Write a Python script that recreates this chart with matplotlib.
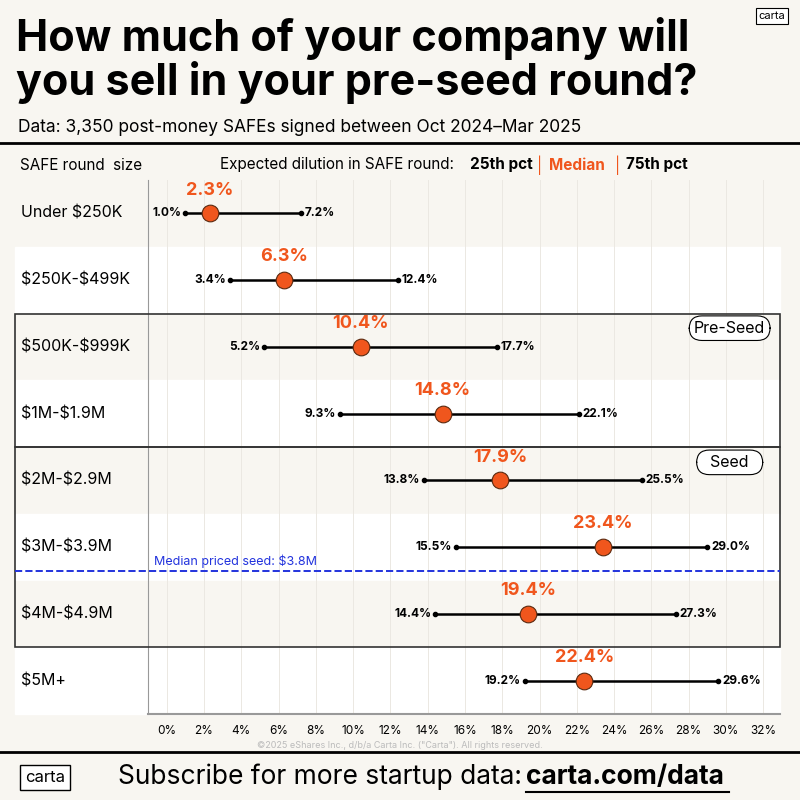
import matplotlib
matplotlib.use("Agg")
import matplotlib.pyplot as plt
from matplotlib.patches import Rectangle
from matplotlib.lines import Line2D

categories = ["Under $250K", "$250K-$499K", "$500K-$999K", "$1M-$1.9M",
              "$2M-$2.9M", "$3M-$3.9M", "$4M-$4.9M", "$5M+"]
p25 = [1.0, 3.4, 5.2, 9.3, 13.8, 15.5, 14.4, 19.2]
median = [2.3, 6.3, 10.4, 14.8, 17.9, 23.4, 19.4, 22.4]
p75 = [7.2, 12.4, 17.7, 22.1, 25.5, 29.0, 27.3, 29.6]
ticks = list(range(0, 33, 2))

plt.rcParams['font.family'] = ['Inter', 'DejaVu Sans']
plt.rcParams['text.parse_math'] = False
BG = "#f8f6f1"
OR = "#f0561d"
fig = plt.figure(figsize=(8, 8), dpi=100, facecolor=BG)

def fx(px): return px / 800
def fy(py): return 1 - py / 800

fig.text(fx(16), fy(38), "How much of your company will", fontsize=31, fontweight="bold", va="center")
fig.text(fx(16), fy(82), "you sell in your pre-seed round?", fontsize=31, fontweight="bold", va="center")
fig.text(fx(18), fy(127), "Data: 3,350 post-money SAFEs signed between Oct 2024–Mar 2025", fontsize=12.5, va="center")
fig.text(fx(772), fy(16), "carta", fontsize=8, ha="center", va="center",
         bbox=dict(boxstyle="square,pad=0.25", fc="white", ec="black", lw=0.8))
fig.add_artist(Line2D([0, 1], [fy(143), fy(143)], color="black", lw=2))
fig.add_artist(Line2D([0, 1], [fy(752), fy(752)], color="black", lw=2))

fig.text(fx(20), fy(165), "SAFE round  size", fontsize=11, va="center")
fig.text(fx(220), fy(165), "Expected dilution in SAFE round: ", fontsize=11, va="center")
fig.text(fx(470), fy(165), "25th pct", fontsize=11, fontweight="bold", va="center")
fig.text(fx(537), fy(165), "|", fontsize=11, va="center", color=OR)
fig.text(fx(549), fy(165), "Median", fontsize=11, fontweight="bold", va="center", color=OR)
fig.text(fx(615), fy(165), "|", fontsize=11, va="center", color=OR)
fig.text(fx(626), fy(165), "75th pct", fontsize=11, fontweight="bold", va="center")

ax = fig.add_axes([fx(148), fy(714), fx(780 - 148), fy(180) - fy(714)])
ax.set_facecolor("none")
ax.set_xlim(-1.0, 32.9)
ax.set_ylim(7.5, -0.5)
left_ext = (15 - 148) / 632
x_left = -1.0 + left_ext * 33.9

for i in range(len(categories)):
    col = BG if i % 2 == 0 else "white"
    ax.axhspan(i - 0.5, i + 0.5, xmin=left_ext, xmax=1, color=col, zorder=0, clip_on=False)
for t in ticks:
    ax.axvline(t, color="#ebe8e2", lw=0.7, zorder=1)

for i, c in enumerate(categories):
    ax.plot([p25[i], p75[i]], [i, i], color="black", lw=1.8, zorder=3)
    ax.plot([p25[i], p75[i]], [i, i], "o", color="black", ms=3, zorder=3)
    ax.plot(median[i], i, "o", ms=12, color=OR, mec="#5a2a10", mew=0.8, zorder=4)
    ax.text(p25[i] - 0.2, i, f"{p25[i]:.1f}%", ha="right", va="center", fontsize=8.5, fontweight="bold")
    ax.text(p75[i] + 0.2, i, f"{p75[i]:.1f}%", ha="left", va="center", fontsize=8.5, fontweight="bold")
    ax.text(median[i], i - 0.22, f"{median[i]:.1f}%", ha="center", va="bottom", fontsize=13,
            fontweight="bold", color=OR)
    ax.text(x_left + 0.3, i, c, ha="left", va="center", fontsize=11.5)

ax.set_yticks([])
ax.set_xticks(ticks)
ax.set_xticklabels([f"{t}%" for t in ticks], fontsize=8.5)
ax.tick_params(axis="x", length=0, pad=8)
for s in ["top", "right"]:
    ax.spines[s].set_visible(False)
ax.spines["left"].set_color("#999999")
ax.spines["bottom"].set_color("#999999")
ax.spines["left"].set_linewidth(0.8)
ax.spines["bottom"].set_linewidth(1.5)

for y0, y1 in [(1.5, 3.5), (3.5, 6.5)]:
    ax.add_patch(Rectangle((x_left, y0), 33.9 * (1 - left_ext), y1 - y0,
                           fill=False, ec="#333333", lw=1.2, clip_on=False, zorder=5))
ax.text(30.2, 1.72, "Pre-Seed", ha="center", va="center", fontsize=11.5,
        bbox=dict(boxstyle="round,pad=0.3,rounding_size=0.8", fc="white", ec="black", lw=0.8), zorder=6)
ax.text(30.2, 3.73, "  Seed  ", ha="center", va="center", fontsize=11.5,
        bbox=dict(boxstyle="round,pad=0.3,rounding_size=0.8", fc="white", ec="black", lw=0.8), zorder=6)
ax.plot([x_left, 32.9], [5.36, 5.36], ls="--", color="#2233dd", lw=1.4, clip_on=False, zorder=5)
ax.text(-0.7, 5.31, "Median priced seed: $3.8M", color="#2233dd", fontsize=9, va="bottom")

fig.text(fx(400), fy(745), "©2025 eShares Inc., d/b/a Carta Inc. (\"Carta\"). All rights reserved.",
         fontsize=6.5, color="#bbbbbb", ha="center", va="center")
fig.text(fx(45), fy(777), "carta", fontsize=12, ha="center", va="center",
         bbox=dict(boxstyle="square,pad=0.3", fc="white", ec="black", lw=1))
fig.text(fx(118), fy(777), "Subscribe for more startup data: ", fontsize=19, va="center")
fig.text(fx(526), fy(777), "carta.com/data", fontsize=19, fontweight="bold", va="center")
fig.add_artist(Line2D([fx(526), fx(729)], [fy(792), fy(792)], color="black", lw=1.5))

fig.savefig("out.png", dpi=100, facecolor=BG)
